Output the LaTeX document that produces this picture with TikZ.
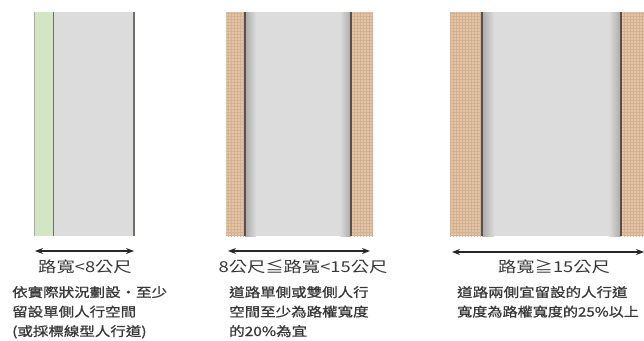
\documentclass[tikz,border=0pt]{standalone}
\usepackage{fontspec}
\newfontfamily\cjk[FakeStretch=1.22]{Noto Sans CJK TC}
\newfontfamily\cjkb[FakeStretch=1.21,FakeBold=1.0]{Noto Sans CJK TC}
\newfontfamily\cjkc[FakeStretch=1.18,FakeBold=1.0]{Noto Sans CJK TC}
\usetikzlibrary{arrows.meta,patterns}
\definecolor{roadgray}{HTML}{DCDCDC}
\definecolor{shadegray}{HTML}{A9A9A9}
\definecolor{walkgreen}{HTML}{D3E6C3}
\definecolor{walkbrown}{HTML}{E3C4A5}
\definecolor{gridbrown}{HTML}{D2B292}
\definecolor{edgedark}{HTML}{5A5048}
\definecolor{edgegreen}{HTML}{6E7468}
\definecolor{txt}{HTML}{383838}
\tikzset{
  road/.style={fill=roadgray, draw=none},
  walk/.style={fill=walkbrown, postaction={pattern=grid, pattern color=gridbrown}},
  edgeline/.style={draw=edgedark, line width=2pt},
  dim/.style={draw=black!85, line width=1.3pt, {Stealth[length=8pt,width=6pt]}-{Stealth[length=8pt,width=6pt]}},
  lab/.style={text=txt, font=\cjk\fontsize{15}{18}\selectfont, inner sep=0pt, anchor=base},
  desc/.style={text=txt, font=\cjkb\fontsize{12.8}{16}\selectfont, inner sep=0pt, anchor=base west},
  descn/.style={desc, font=\cjkc\fontsize{12.8}{16}\selectfont}
}
\begin{document}
\begin{tikzpicture}[x=1pt,y=-1pt]
\useasboundingbox (0,0) rectangle (644,340);
\fill[white] (0,0) rectangle (644,340);
% ---------- panel 1 ----------
\fill[walkgreen] (34,12) rectangle (53,236);
\fill[road] (53,12) rectangle (134,236);
\draw[draw=edgegreen!60, line width=0.6pt] (34,12) -- (34,236);
\draw[draw=edgegreen, line width=1.6pt] (53.5,12) -- (53.5,236);
\draw[draw=edgegreen, line width=1.6pt] (134,12) -- (134,236);
\coordinate (a1l) at (35,251);
\coordinate (a1r) at (134,251);
\draw[dim] (a1l) -- (a1r);
\node[lab] (l1) at (85,272.5) {路寬<8公尺};
\node[desc] (d1a) at (12,297) {依實際狀況劃設・至少};
\node[desc] (d1b) at (12,316.5) {留設單側人行空間};
\node[desc] (d1c) at (12,336) {(或採標線型人行道)};
% ---------- panel 2 ----------
\fill[road] (245,12) rectangle (351,236);
\shade[left color=shadegray, right color=roadgray] (245,12) rectangle (256,236);
\shade[left color=roadgray, right color=shadegray] (340,12) rectangle (351,236);
\path[walk] (226,12) rectangle (244,236);
\path[walk] (352,12) rectangle (373,236);
\draw[edgeline] (245,12) -- (245,236);
\draw[edgeline] (351,12) -- (351,236);
\coordinate (a2l) at (228,251);
\coordinate (a2r) at (370,251);
\draw[dim] (a2l) -- (a2r);
\node[lab] (l2) at (303,272.5) {8公尺≦路寬<15公尺};
\node[desc] (d2a) at (229,297) {道路單側或雙側人行};
\node[desc] (d2b) at (229,316.5) {空間至少為路權寬度};
\node[desc] (d2c) at (229,336) {的20\%為宜};
% ---------- panel 3 ----------
\fill[road] (482,12) rectangle (621,236);
\shade[left color=shadegray, right color=roadgray] (482,12) rectangle (494,236);
\shade[left color=roadgray, right color=shadegray] (609,12) rectangle (621,236);
\path[walk] (450,12) rectangle (481,236);
\path[walk] (622,12) rectangle (644,236);
\draw[edgeline] (482,12) -- (482,236);
\draw[edgeline] (621,12) -- (621,236);
\coordinate (a3l) at (452,252);
\coordinate (a3r) at (644,252);
\draw[dim] (a3l) -- (a3r);
\node[lab] (l3) at (554,272.5) {路寬≧15公尺};
\node[desc] (d3a) at (457,297) {道路兩側宜留設的人行道};
\node[descn] (d3b) at (457,316.5) {寬度為路權寬度的25\%以上};
\end{tikzpicture}
\end{document}
